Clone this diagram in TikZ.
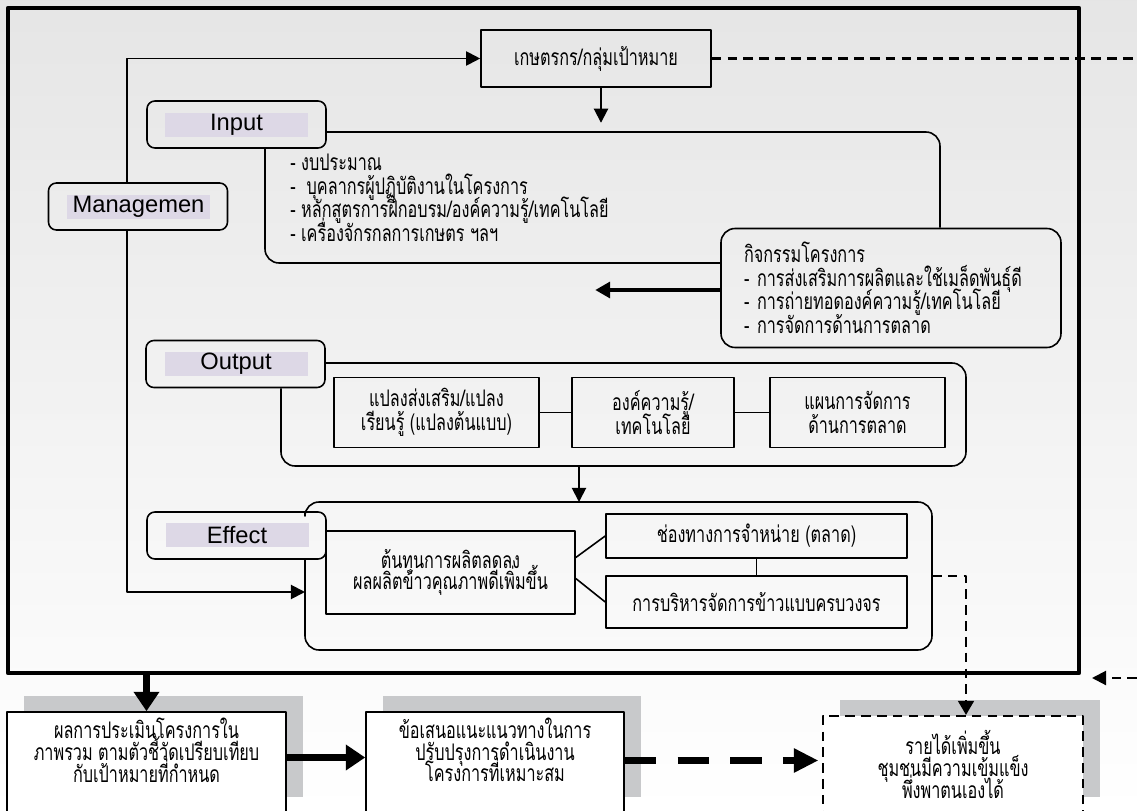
\documentclass[tikz,border=0pt]{standalone}
\usepackage{fontspec}
\setmainfont{Liberation Sans}
\newfontfamily\thaifont[Script=Thai,FakeStretch=0.71]{Loma}
\usetikzlibrary{arrows.meta,positioning,calc,shadows}

\definecolor{tagbg}{HTML}{DDD8E6}
\definecolor{shadowgray}{HTML}{C8C9CB}
\newcommand\thaimid{\thaifont\fontsize{13}{13.4}\selectfont\lineskiplimit=-20pt\relax}
\newcommand\thaitight{\thaifont\fontsize{13}{12.4}\selectfont\lineskiplimit=-20pt\relax}

\begin{document}
\begin{tikzpicture}[x=0.02cm,y=-0.02cm,line join=round,
  every node/.style={inner sep=0pt},
  th/.style={font=\thaimid},
  thb/.style={font=\thaitight},
  ln/.style={line width=0.9pt},
  sz/.style 2 args={minimum width=#1*0.02cm,minimum height=#2*0.02cm},
  tag/.style={draw,line width=0.9pt,rounded corners=4.5pt,sz={179}{47}},
  hl/.style={fill=tagbg,sz={143}{24},font=\fontsize{13.5}{14}\selectfont},
  bx/.style={draw,line width=0.9pt,align=center,th},
  arr/.style={line width=1.1pt,-{Triangle[length=8pt,width=8pt]}},
  fat/.style={line width=4pt,-{Triangle[length=11pt,width=14pt]}},
  dsh/.style={line width=1.2pt,dash pattern=on 5.5pt off 3.5pt},
  shd/.style={drop shadow={shadow xshift=9.6pt,shadow yshift=9.1pt,fill=shadowgray,opacity=1}}]

  \shade[top color=black!10,bottom color=white] (0,0) rectangle (1137,811);
  \useasboundingbox (0,0) rectangle (1137,811);

  % outer frame
  \node[draw,line width=2.6pt,sz={1071}{665}] (frame) at (543.5,340.5) {};

  % target group
  \node[bx,sz={230}{57}] (farmer) at (596,58.5) {เกษตรกร/กลุ่มเป้าหมาย};
  \draw[arr] ($(farmer.south)+(5,0)$) -- ++(0,35);

  % input
  \node[tag] (inputtag) at (236.5,124.5) {};
  \node[hl] (inputhl) at (236.5,125) {Input};
  \node[bx,rounded corners=8pt,sz={340}{119},text width=5.88cm,align=left] (acts) at (891,288)
    {กิจกรรมโครงการ\\- การส่งเสริมการผลิตและใช้เมล็ดพันธุ์ดี\\- การถ่ายทอดองค์ความรู้/เทคโนโลยี\\- การจัดการด้านการตลาด};
  \draw[ln,rounded corners=8pt] (inputtag.east |- 0,132) -- (940,132) -- (acts.north -| 940,0);
  \draw[ln,rounded corners=8pt] (265,0 |- inputtag.south) -- (265,263) -- (acts.west |- 0,263);
  \node[th,anchor=west,align=left] (inlist) at (290,198)
    {- งบประมาณ\\-\ \ บุคลากรผู้ปฏิบัติงานในโครงการ\\- หลักสูตรการฝึกอบรม/องค์ความรู้/เทคโนโลยี\\- เครื่องจักรกลการเกษตร ฯลฯ};
  \draw[line width=2.2pt,-{Triangle[length=8.5pt,width=9pt]}] ($(acts.west)+(0,2)$) -- ++(-125,0);

  % output
  \node[tag] (outtag) at (235.5,364) {};
  \node[hl] (outhl) at (236,363.5) {Output};
  \draw[ln,rounded corners=8pt] (outtag.east |- 0,363) -- (966,363) -- (966,466) -- (281,466) -- (281,0 |- outtag.south);
  \node[bx,sz={205}{70}] (ob1) at (436.5,412.5) {แปลงส่งเสริม/แปลง\\เรียนรู้ (แปลงต้นแบบ)};
  \node[bx,sz={162}{70}] (ob2) at (653,412.5) {องค์ความรู้/\\เทคโนโลยี};
  \node[bx,sz={175}{70}] (ob3) at (857.5,412.5) {แผนการจัดการ\\ด้านการตลาด};
  \draw[ln] (ob1) -- (ob2);
  \draw[ln] (ob2) -- (ob3);

  % effect
  \coordinate (outbot) at (579,466);
  \coordinate (efftop) at (579,502);
  \coordinate (effin) at (305,592);
  \coordinate (effout) at (932,576);
  \draw[arr] (outbot) -- (efftop);
  \node[tag] (efftag) at (236.5,535.5) {};
  \node[hl] (effhl) at (237,535) {Effect};
  \draw[ln,rounded corners=8pt] (305,0 |- efftag.south) -- (305,650) -- (932,650) -- (932,502) -- (305,502) -- (305,0 |- efftag.north);
  \node[bx,thb,sz={249}{83}] (ea) at (450.5,572.5) {ต้นทุนการผลิตลดลง\\ผลผลิตข้าวคุณภาพดีเพิ่มขึ้น};
  \node[bx,sz={301}{44}] (eb) at (756.5,536) {ช่องทางการจำหน่าย (ตลาด)};
  \node[bx,sz={301}{52}] (ec) at (756.5,602) {การบริหารจัดการข้าวแบบครบวงจร};
  \draw[ln] ($(ea.east)+(0,-15)$) -- (eb.west);
  \draw[ln] ($(ea.east)+(0,6)$) -- (ec.west);
  \draw[ln] (eb.south) -- (ec.north);

  % management
  \node[tag] (mgmttag) at (138,206.5) {};
  \node[hl] (mgmthl) at (138.5,207) {Managemen};
  \draw[arr] (127,0 |- mgmttag.north) |- (farmer.west);
  \draw[arr] (127,0 |- mgmttag.south) |- (effin);

  % results below the frame
  \node[bx,fill=white,shd,sz={279}{101}] (res) at (146.5,762.5) {};
  \node[thb,align=center] (restxt) at (146.5,750) {ผลการประเมินโครงการใน\\ภาพรวม ตามตัวชี้วัดเปรียบเทียบ\\กับเป้าหมายที่กำหนด};
  \node[bx,fill=white,shd,sz={258}{101}] (sugg) at (495,762.5) {};
  \node[thb,align=center] (suggtxt) at (495,750) {ข้อเสนอแนะแนวทางในการ\\ปรับปรุงการดำเนินงาน\\โครงการที่เหมาะสม};
  \node[bx,thb,fill=white,shd,dsh,sz={260}{97}] (income) at (953,764.5) {รายได้เพิ่มขึ้น\\ชุมชนมีความเข้มแข็ง\\พึ่งพาตนเองได้};

  \draw[fat] (res.north |- frame.south) -- (res.north);
  \draw[fat] ($(res.east)+(0,-5)$) -- ($(sugg.west)+(0,-5)$);
  \draw[line width=4.5pt,dash pattern=on 18pt off 12pt,shorten >=2pt,-{Triangle[length=14pt,width=13pt]}]
    ($(sugg.east)+(0,-2)$) -- ($(income.west)+(0,-4)$);
  \draw[dsh,-{Triangle[length=8pt,width=9pt]}] (effout) -| ($(income.north)+(13,0)$);

  % loop leaving the picture
  \coordinate (topout) at (1137,58.5);
  \coordinate (botin) at (1137,678);
  \coordinate (botend) at (1092,678);
  \draw[dsh] (farmer.east) -- (topout);
  \draw[dsh,-{Triangle[length=8pt,width=8pt]}] (botin) -- (botend);
\end{tikzpicture}
\end{document}
